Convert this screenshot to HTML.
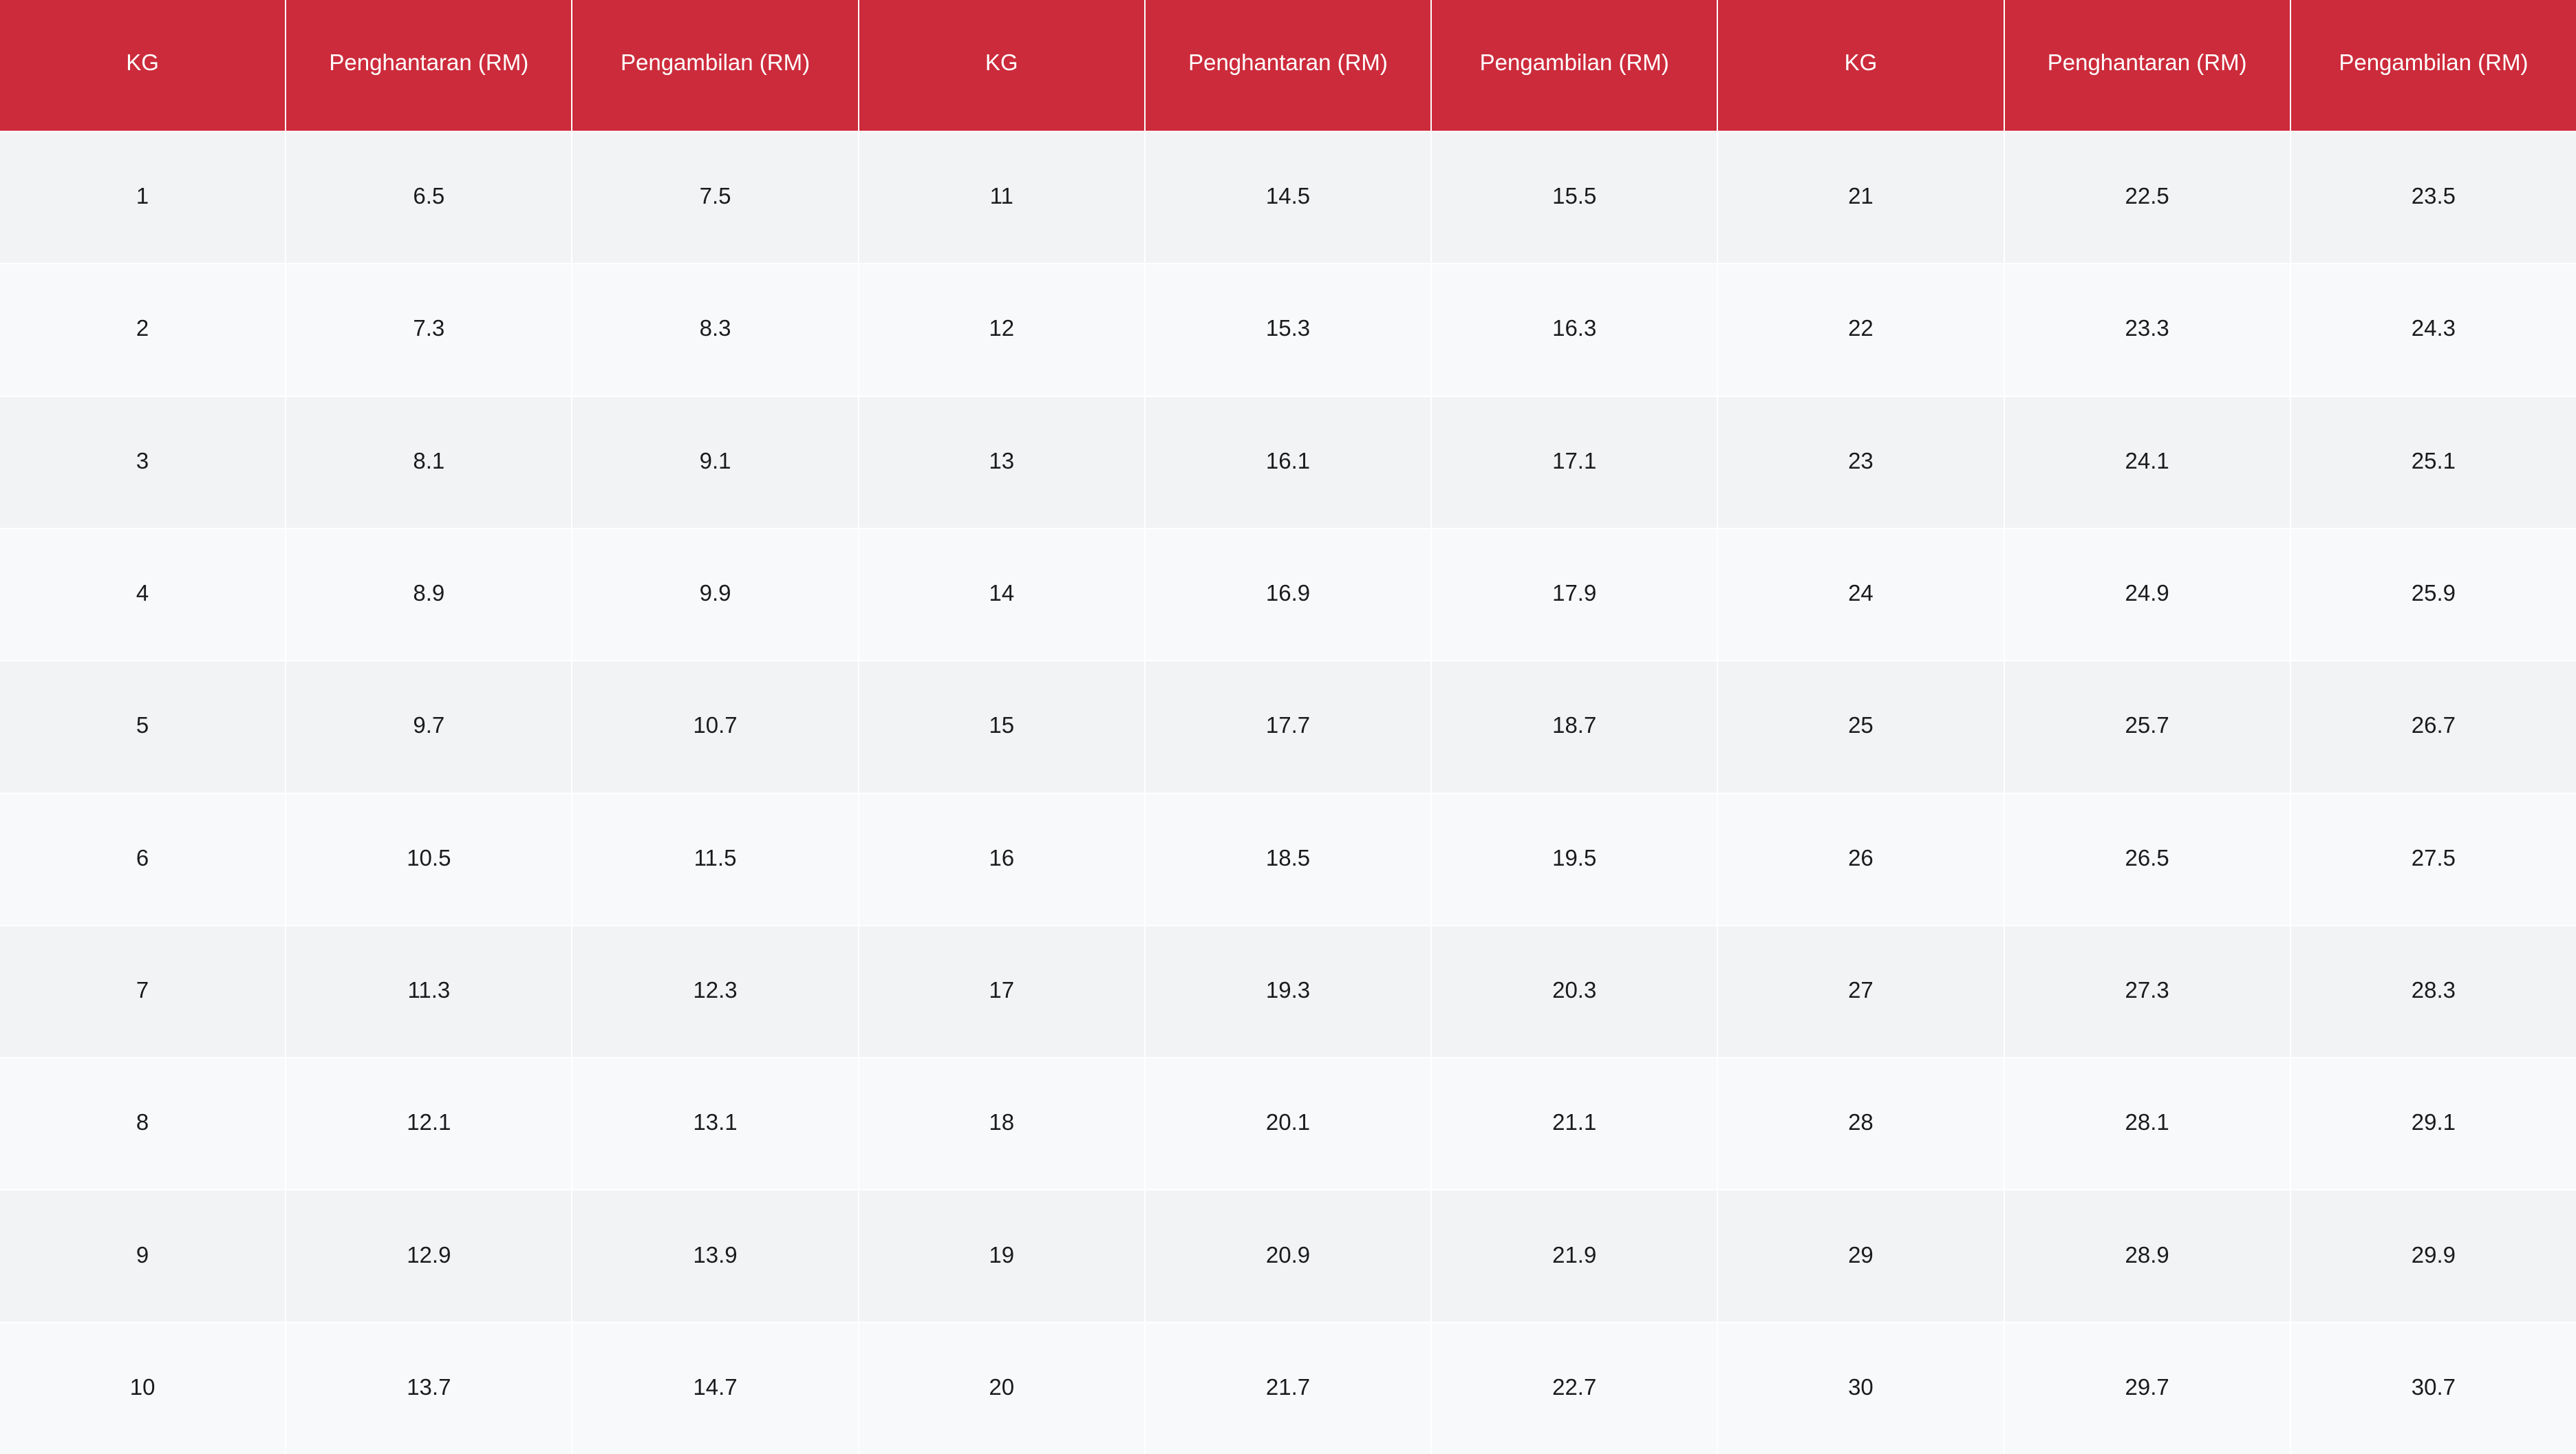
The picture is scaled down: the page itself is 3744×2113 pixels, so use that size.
<!DOCTYPE html>
<html>
<head>
<meta charset="utf-8">
<style>
html,body{margin:0;padding:0;background:#fff;}
.t{position:relative;width:3744px;height:2113px;display:grid;grid-template-columns:repeat(9,1fr);grid-template-rows:190px repeat(10,1fr);gap:2px;background:#fff;font-family:"Liberation Sans",sans-serif;font-size:33px;}
.t div{display:flex;align-items:center;justify-content:center;color:#1b1b1d;padding-bottom:4px;box-sizing:border-box;}
.t .h{background:#cc2b3b;color:#fff;padding-bottom:8px;}
.t .o{background:#f2f3f5;}
.t .e{background:#f8f9fb;}
</style>
</head>
<body>
<div class="t">
<div class="h">KG</div><div class="h">Penghantaran (RM)</div><div class="h">Pengambilan (RM)</div><div class="h">KG</div><div class="h">Penghantaran (RM)</div><div class="h">Pengambilan (RM)</div><div class="h">KG</div><div class="h">Penghantaran (RM)</div><div class="h">Pengambilan (RM)</div>
<div class="o">1</div><div class="o">6.5</div><div class="o">7.5</div><div class="o">11</div><div class="o">14.5</div><div class="o">15.5</div><div class="o">21</div><div class="o">22.5</div><div class="o">23.5</div>
<div class="e">2</div><div class="e">7.3</div><div class="e">8.3</div><div class="e">12</div><div class="e">15.3</div><div class="e">16.3</div><div class="e">22</div><div class="e">23.3</div><div class="e">24.3</div>
<div class="o">3</div><div class="o">8.1</div><div class="o">9.1</div><div class="o">13</div><div class="o">16.1</div><div class="o">17.1</div><div class="o">23</div><div class="o">24.1</div><div class="o">25.1</div>
<div class="e">4</div><div class="e">8.9</div><div class="e">9.9</div><div class="e">14</div><div class="e">16.9</div><div class="e">17.9</div><div class="e">24</div><div class="e">24.9</div><div class="e">25.9</div>
<div class="o">5</div><div class="o">9.7</div><div class="o">10.7</div><div class="o">15</div><div class="o">17.7</div><div class="o">18.7</div><div class="o">25</div><div class="o">25.7</div><div class="o">26.7</div>
<div class="e">6</div><div class="e">10.5</div><div class="e">11.5</div><div class="e">16</div><div class="e">18.5</div><div class="e">19.5</div><div class="e">26</div><div class="e">26.5</div><div class="e">27.5</div>
<div class="o">7</div><div class="o">11.3</div><div class="o">12.3</div><div class="o">17</div><div class="o">19.3</div><div class="o">20.3</div><div class="o">27</div><div class="o">27.3</div><div class="o">28.3</div>
<div class="e">8</div><div class="e">12.1</div><div class="e">13.1</div><div class="e">18</div><div class="e">20.1</div><div class="e">21.1</div><div class="e">28</div><div class="e">28.1</div><div class="e">29.1</div>
<div class="o">9</div><div class="o">12.9</div><div class="o">13.9</div><div class="o">19</div><div class="o">20.9</div><div class="o">21.9</div><div class="o">29</div><div class="o">28.9</div><div class="o">29.9</div>
<div class="e">10</div><div class="e">13.7</div><div class="e">14.7</div><div class="e">20</div><div class="e">21.7</div><div class="e">22.7</div><div class="e">30</div><div class="e">29.7</div><div class="e">30.7</div>
</div>
</body>
</html>
